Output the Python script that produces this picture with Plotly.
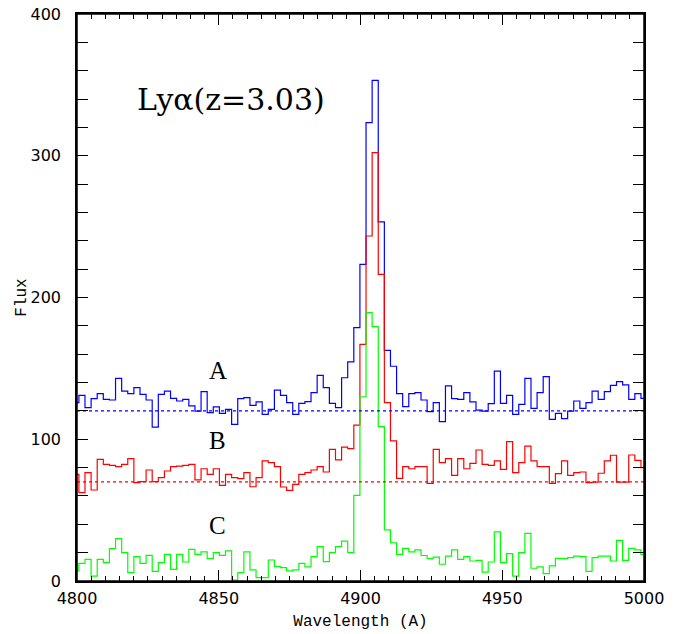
import numpy as np
import plotly.graph_objects as go

# Wavelength grid (bin left edges): start and dispersion in Angstrom
wave_start = 4798.51
wave_step = 2.155

flux_A = [125.8, 131, 122.3, 128.6, 132.2, 128.2, 127.7, 143, 134, 132.2,
          136.4, 131.7, 127.7, 108.6, 131.7, 134, 128.9, 127, 128.2, 123.5,
          119.9, 133.6, 118.8, 122.8, 118.3, 121.1, 110.5, 128.6, 129.3, 123.9,
          126.3, 117.6, 121.1, 134.7, 131, 125.8, 117.6, 125.3, 126.5, 132.9,
          145.1, 136.4, 125.3, 122.3, 143.4, 154.6, 178.7, 223.4, 323.3, 353.2,
          253.3, 162.7, 151.5, 132.2, 123, 132.2, 132.9, 127.7, 119.5, 125.8,
          112.4, 137.6, 128.6, 128.2, 132.9, 126.3, 120.6, 119.9, 125.1, 148.1,
          125.3, 131, 117.6, 124.6, 143, 121.8, 132.9, 144.2, 114, 118.3,
          114.5, 119.9, 127, 121.8, 125.8, 134, 128.2, 133.6, 138, 140.6,
          138.3, 128.2, 132.2, 128.9]

flux_B = [75.2, 62.3, 76.4, 64.2, 85.8, 82.3, 81.6, 80.7, 82.3, 86.3,
          69.4, 70.1, 78.3, 70.1, 72.9, 77.6, 80.7, 81.1, 81.6, 82.3,
          71.3, 79.2, 75.2, 79.2, 67.5, 75.2, 72.9, 72.2, 76.4, 66.5,
          72.9, 84.7, 83.5, 80.7, 66.3, 64, 68.2, 75.2, 76.4, 78.3,
          80.7, 76.9, 92.9, 85.4, 94.5, 93.4, 110, 167, 243.4, 302.2,
          216.3, 125.8, 98.8, 72.4, 80.7, 79.2, 80.7, 80.7, 68.9, 92.9,
          83.5, 86.3, 74.5, 86.3, 79.2, 83, 92.4, 82.3, 81.6, 84.7,
          78.8, 98.3, 76.4, 83.5, 95.2, 84.7, 80.7, 80.7, 68.9, 75.7,
          84.7, 74.5, 76.4, 76.9, 69.4, 69.8, 76, 84.7, 88.7, 69.8,
          69.8, 88.9, 85.1, 80]

flux_C = [7.1, 12.5, 15.3, 3.5, 15.3, 12.9, 22.8, 29.9, 20, 5.9,
          17.2, 12.5, 18.1, 6.8, 12.9, 18.8, 8.2, 18.8, 13.4, 22.3,
          18.8, 20.5, 15.8, 20, 18.1, 21.2, 0.7, 5.9, 20.5, 7.8,
          2.4, 2.4, 14.8, 10.1, 9.4, 7.1, 7.8, 12.5, 10, 17.2,
          24.2, 13.6, 20, 24.2, 28.2, 20, 60.4, 130, 189.3, 179.4,
          108.9, 36, 27, 18.8, 23, 20.5, 21.9, 18, 15.8, 16.9,
          11.8, 17.6, 21.9, 15.3, 17.2, 14.1, 14.6, 6.3, 13.4, 34.6,
          12.9, 19.3, 3.5, 20, 33.6, 9, 10, 5.2, 10.6, 16,
          15.8, 16.5, 17.6, 17.2, 6.8, 16.5, 17.6, 17.6, 14.1, 28.7,
          14.6, 23, 21.9, 18.8]

continuum_A = 120
continuum_B = 70

series_labels = ["A", "B", "C"]
label_y = [148.6, 99.2, 39.3]
label_x = 4849.7
title_text = "Ly\u03b1(z=3.03)"

x_ticks = [4800, 4850, 4900, 4950, 5000]
y_ticks = [0, 100, 200, 300, 400]

n = len(flux_A)
edges = wave_start + wave_step * np.arange(n + 1)


def step(vals):
    v = list(vals) + [vals[-1]]
    return edges, v


fig = go.Figure()
for vals, col in [(flux_A, "#0000ff"), (flux_B, "#ff0000"), (flux_C, "#00ff00")]:
    xs, ys = step(vals)
    fig.add_trace(go.Scatter(x=xs, y=ys, mode="lines", line_shape="hv",
                             line=dict(color=col, width=1.2), showlegend=False,
                             hoverinfo="skip"))

for lev, col in [(continuum_A, "#0000ff"), (continuum_B, "#ff0000")]:
    fig.add_trace(go.Scatter(x=[x_ticks[0], x_ticks[-1]], y=[lev, lev], mode="lines",
                             line=dict(color=col, width=1.2, dash="dot"),
                             showlegend=False, hoverinfo="skip"))

# invisible trace on a top x-axis so that it carries ticks on the top edge
fig.add_trace(go.Scatter(x=[x_ticks[0], x_ticks[-1]], y=[y_ticks[0], y_ticks[0]],
                         mode="lines", line=dict(width=0), xaxis="x2",
                         showlegend=False, hoverinfo="skip"))

for lab, yy in zip(series_labels, label_y):
    fig.add_annotation(x=label_x, y=yy, text=lab, showarrow=False,
                       font=dict(family="Liberation Serif", size=25, color="black"),
                       xanchor="center", yanchor="middle")

fig.add_annotation(x=4820.3, y=340, text=title_text, showarrow=False,
                   font=dict(family="DejaVu Serif", size=30, color="black"),
                   xanchor="left", yanchor="middle")

fig.add_shape(type="rect", xref="paper", yref="paper", x0=0, x1=1, y0=0, y1=1,
              line=dict(color="black", width=1.5), layer="above")

axis_common = dict(showline=True, linecolor="black", linewidth=1.5, mirror="allticks",
                   ticks="inside", ticklen=11, tickwidth=1.2, tickcolor="black",
                   showgrid=False, zeroline=False, automargin=False,
                   ticklabeloverflow="allow",
                   tickfont=dict(family="DejaVu Sans", size=16, color="black"))

fig.update_xaxes(range=[4800, 5000], tickvals=x_ticks, ticklabelstandoff=2,
                 minor=dict(dtick=5, ticklen=5, ticks="inside", tickcolor="black", tickwidth=1),
                 title=dict(text="Wavelength (A)", standoff=8,
                            font=dict(family="Liberation Mono", size=16, color="black")),
                 **axis_common)
fig.update_yaxes(range=[0, 400], tickvals=y_ticks, ticklabelstandoff=11,
                 minor=dict(dtick=20, ticklen=5, ticks="inside", tickcolor="black", tickwidth=1),
                 title=dict(text="Flux", standoff=0,
                            font=dict(family="Liberation Mono", size=16, color="black")),
                 **axis_common)

fig.update_layout(
    xaxis2=dict(overlaying="x", side="top", range=[4800, 5000], tickvals=x_ticks,
                showticklabels=False, ticks="inside", ticklen=11, tickwidth=1.2,
                tickcolor="black", showgrid=False, zeroline=False, showline=False,
                automargin=False,
                minor=dict(dtick=5, ticklen=5, ticks="inside", tickcolor="black", tickwidth=1)),
    width=681, height=634, margin=dict(l=77, r=37, t=14, b=53),
    paper_bgcolor="white", plot_bgcolor="white")

fig.write_html("out.html", config={"displayModeBar": False},
               post_script="document.body.style.margin='0px';document.body.style.overflow='hidden';")
